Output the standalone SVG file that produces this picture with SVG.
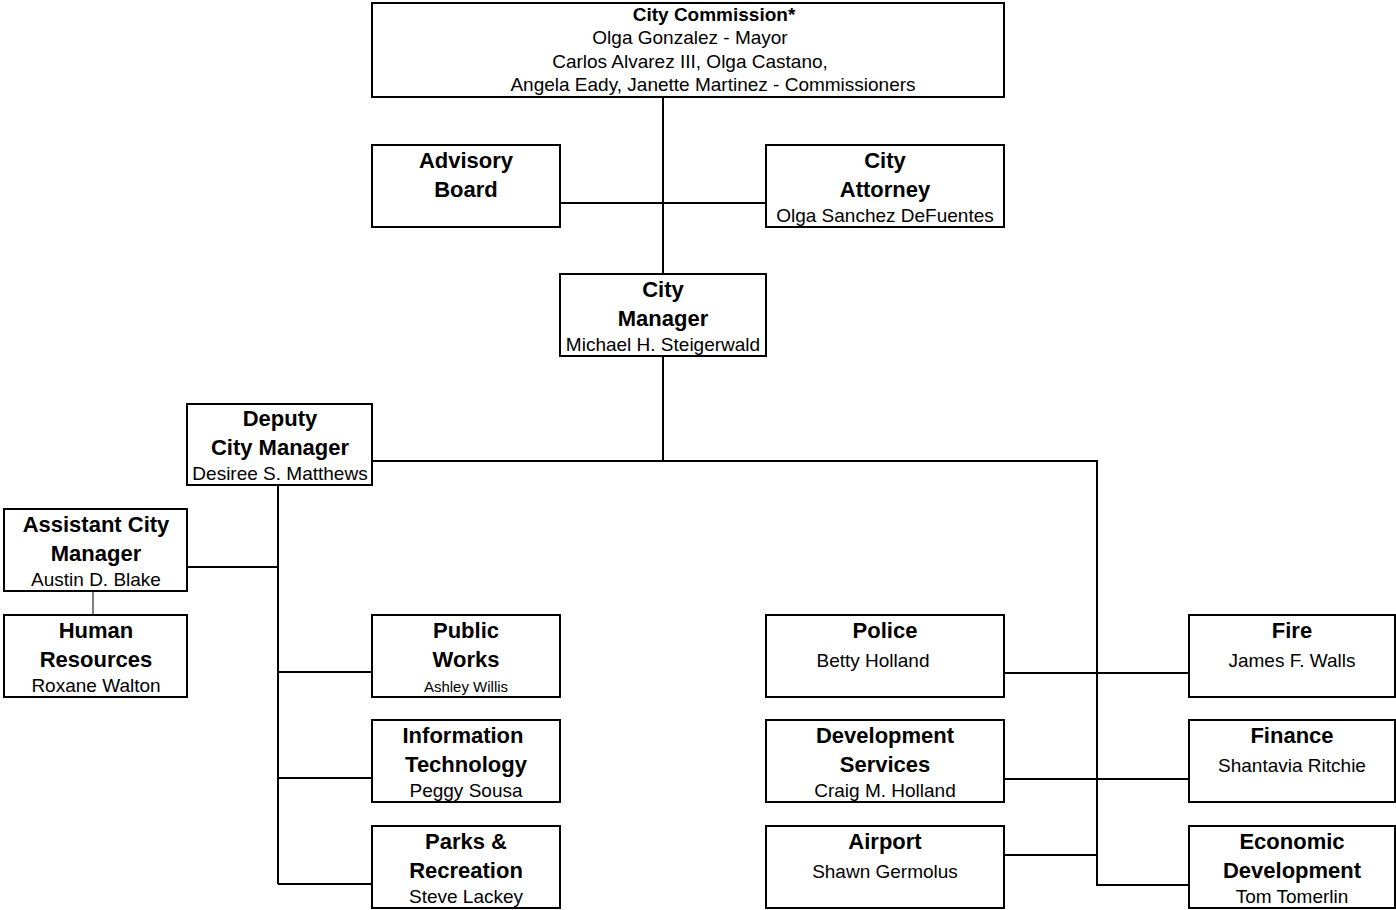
<svg xmlns="http://www.w3.org/2000/svg" width="1396" height="910" viewBox="0 0 1396 910">
<style>
.box{fill:#fff;stroke:#000;stroke-width:2}
.ln{stroke:#000;stroke-width:2;fill:none}
.thin{stroke:#000;stroke-width:1;fill:none}
text{font-family:"Liberation Sans",Arial,sans-serif;fill:#000;text-anchor:middle}
.t{font-weight:bold;font-size:22px}
.ct{font-weight:bold;font-size:19px}
.n{font-size:19px}
.s{font-size:15px}
</style>
<rect width="1396" height="910" fill="#fff"/>
<g id="connectors">
<path class="ln" d="M663 97V274M560 203H766M663 356V461M372 461H1097V885H1189"/>
<path class="ln" d="M1004 673H1189M1004 779H1189M1004 855H1097"/>
<path class="ln" d="M278 485V884M187 567H278M278 672H372M278 778H372M278 884H372"/>
<path class="thin" d="M93 591V615"/>
</g>
<g id="commission">
<rect class="box" x="372" y="3" width="632" height="94"/>
<text class="ct" x="714" y="21">City Commission*</text>
<text class="n" x="690" y="44">Olga Gonzalez - Mayor</text>
<text class="n" x="690" y="68">Carlos Alvarez III, Olga Castano,</text>
<text class="n" x="713" y="91">Angela Eady, Janette Martinez - Commissioners</text>
</g>
<g id="advisory">
<rect class="box" x="372" y="145" width="188" height="82"/>
<text class="t" x="466" y="168">Advisory</text>
<text class="t" x="466" y="197">Board</text>
</g>
<g id="attorney">
<rect class="box" x="766" y="145" width="238" height="82"/>
<text class="t" x="885" y="168">City</text>
<text class="t" x="885" y="197">Attorney</text>
<text class="n" x="885" y="222">Olga Sanchez DeFuentes</text>
</g>
<g id="manager">
<rect class="box" x="560" y="274" width="206" height="82"/>
<text class="t" x="663" y="297">City</text>
<text class="t" x="663" y="326">Manager</text>
<text class="n" x="663" y="351">Michael H. Steigerwald</text>
</g>
<g id="deputy">
<rect class="box" x="187" y="404" width="185" height="81"/>
<text class="t" x="280" y="426">Deputy</text>
<text class="t" x="280" y="455">City Manager</text>
<text class="n" x="280" y="480">Desiree S. Matthews</text>
</g>
<g id="assistant">
<rect class="box" x="4" y="509" width="183" height="82"/>
<text class="t" x="96" y="532">Assistant City</text>
<text class="t" x="96" y="561">Manager</text>
<text class="n" x="96" y="586">Austin D. Blake</text>
</g>
<g id="hr">
<rect class="box" x="4" y="615" width="183" height="82"/>
<text class="t" x="96" y="638">Human</text>
<text class="t" x="96" y="667">Resources</text>
<text class="n" x="96" y="692">Roxane Walton</text>
</g>
<g id="publicworks">
<rect class="box" x="372" y="615" width="188" height="82"/>
<text class="t" x="466" y="638">Public</text>
<text class="t" x="466" y="667">Works</text>
<text class="s" x="466" y="692">Ashley Willis</text>
</g>
<g id="it">
<rect class="box" x="372" y="720" width="188" height="82"/>
<text class="t" x="463" y="743">Information</text>
<text class="t" x="466" y="772">Technology</text>
<text class="n" x="466" y="797">Peggy Sousa</text>
</g>
<g id="parks">
<rect class="box" x="372" y="826" width="188" height="82"/>
<text class="t" x="466" y="849">Parks &amp;</text>
<text class="t" x="466" y="878">Recreation</text>
<text class="n" x="466" y="903">Steve Lackey</text>
</g>
<g id="police">
<rect class="box" x="766" y="615" width="238" height="82"/>
<text class="t" x="885" y="638">Police</text>
<text class="n" x="873" y="667">Betty Holland</text>
</g>
<g id="devservices">
<rect class="box" x="766" y="720" width="238" height="82"/>
<text class="t" x="885" y="743">Development</text>
<text class="t" x="885" y="772">Services</text>
<text class="n" x="885" y="797">Craig M. Holland</text>
</g>
<g id="airport">
<rect class="box" x="766" y="826" width="238" height="82"/>
<text class="t" x="885" y="849">Airport</text>
<text class="n" x="885" y="878">Shawn Germolus</text>
</g>
<g id="fire">
<rect class="box" x="1189" y="615" width="206" height="82"/>
<text class="t" x="1292" y="638">Fire</text>
<text class="n" x="1292" y="667">James F. Walls</text>
</g>
<g id="finance">
<rect class="box" x="1189" y="720" width="206" height="82"/>
<text class="t" x="1292" y="743">Finance</text>
<text class="n" x="1292" y="772">Shantavia Ritchie</text>
</g>
<g id="ecodev">
<rect class="box" x="1189" y="826" width="206" height="82"/>
<text class="t" x="1292" y="849">Economic</text>
<text class="t" x="1292" y="878">Development</text>
<text class="n" x="1292" y="903">Tom Tomerlin</text>
</g>
</svg>
